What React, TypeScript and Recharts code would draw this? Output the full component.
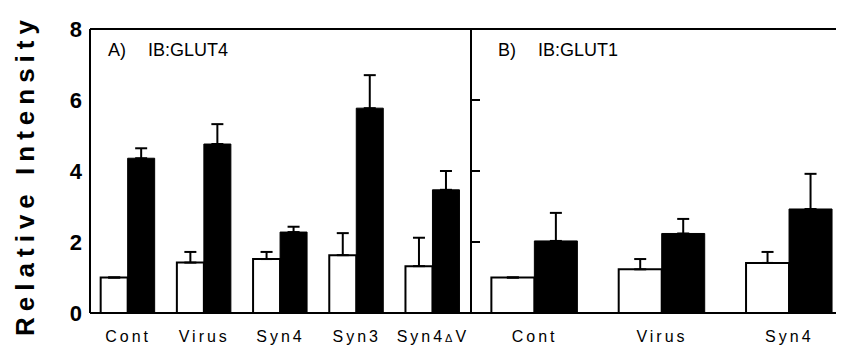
import { BarChart, Bar, XAxis, YAxis, ErrorBar, ReferenceLine, Customized } from "recharts";

const catsA = ["Cont", "Virus", "Syn4", "Syn3", "Syn4ΔV"];
const basalA = [1.0, 1.42, 1.52, 1.63, 1.32];
const basalErrA = [0, 0.3, 0.2, 0.62, 0.8];
const insulinA = [4.36, 4.76, 2.28, 5.77, 3.47];
const insulinErrA = [0.28, 0.56, 0.15, 0.93, 0.53];

const catsB = ["Cont", "Virus", "Syn4"];
const basalB = [1.0, 1.23, 1.41];
const basalErrB = [0, 0.29, 0.31];
const insulinB = [2.03, 2.24, 2.93];
const insulinErrB = [0.79, 0.41, 0.99];

const yTicks = [0, 2, 4, 6, 8];

const FONT = "'Liberation Sans', Arial, sans-serif";

const dataA = catsA.map((name, i) => ({
  name,
  basal: basalA[i],
  basalErr: [0, basalErrA[i]],
  insulin: insulinA[i],
  insulinErr: [0, insulinErrA[i]],
}));

const dataB = catsB.map((name, i) => ({
  name,
  basal: basalB[i],
  basalErr: [0, basalErrB[i]],
  insulin: insulinB[i],
  insulinErr: [0, insulinErrB[i]],
}));

const XTick = (props: any) => {
  const { x, y, payload } = props;
  const v: string = payload.value;
  const delta = v.indexOf("Δ");
  return (
    <text x={x} y={y} dy={21} textAnchor="middle" fontSize={16} letterSpacing={3} fill="#000" fontFamily={FONT}>
      {delta >= 0 ? (
        <>
          {v.slice(0, delta)}
          <tspan fontSize={11}>Δ</tspan>
          {v.slice(delta + 1)}
        </>
      ) : (
        v
      )}
    </text>
  );
};

// divider ticks carry no labels
const NoLabel = () => <g />;

const PanelLabel = ({ x1, x2, a, b }: { x1: number; x2: number; a: string; b: string }) => (
  <g fontFamily={FONT} fontSize={18} fill="#000">
    <text x={x1} y={48}>{a}</text>
    <text x={x2} y={48}>{b}</text>
  </g>
);

function bars() {
  return [
    <Bar key="basal" dataKey="basal" fill="#fff" stroke="#000" strokeWidth={2} isAnimationActive={false}>
      <ErrorBar dataKey="basalErr" direction="y" width={6} stroke="#000" strokeWidth={2} />
    </Bar>,
    <Bar key="insulin" dataKey="insulin" fill="#000" stroke="#000" strokeWidth={1} isAnimationActive={false}>
      <ErrorBar dataKey="insulinErr" direction="y" width={6} stroke="#000" strokeWidth={2} />
    </Bar>,
  ];
}

export default function App() {
  return (
    <div style={{ position: "relative", width: 836, height: 341, overflow: "hidden", background: "#fff" }}>
      <div style={{ position: "absolute", left: 463, top: 0 }}>
        <BarChart
          width={382}
          height={341}
          data={dataB}
          margin={{ top: 21, right: 0, bottom: 0, left: 0 }}
          barGap={0}
          barCategoryGap="16%"
        >
          <XAxis
            dataKey="name"
            height={36}
            tickLine={false}
            axisLine={{ stroke: "#000", strokeWidth: 2 }}
            tick={<XTick />}
            interval={0}
          />
          <YAxis hide width={0} domain={[0, 8]} ticks={yTicks} />
          <ReferenceLine y={8} stroke="#000" strokeWidth={2} />
          {bars()}
          <Customized component={() => <PanelLabel x1={27} x2={67} a="B)" b="IB:GLUT1" />} />
        </BarChart>
      </div>
      <div style={{ position: "absolute", left: 0, top: 0, zIndex: 1 }}>
        <BarChart
          width={475}
          height={341}
          data={dataA}
          margin={{ top: 21, right: 0, bottom: 0, left: 0 }}
          barGap={0}
          barCategoryGap="14%"
        >
          <XAxis
            dataKey="name"
            height={36}
            tickLine={false}
            axisLine={{ stroke: "#000", strokeWidth: 2 }}
            tick={<XTick />}
            interval={0}
          />
          <YAxis
            width={82}
            domain={[0, 8]}
            ticks={yTicks}
            tickLine={false}
            axisLine={{ stroke: "#000", strokeWidth: 2 }}
            tick={{ fontSize: 22, fontWeight: "bold", fill: "#000", fontFamily: FONT }}
          />
          <YAxis
            yAxisId="divider"
            orientation="right"
            type="number"
            width={12}
            domain={[0, 8]}
            allowDataOverflow
            ticks={yTicks}
            tickSize={9}
            tickLine={{ stroke: "#000", strokeWidth: 2 }}
            axisLine={{ stroke: "#000", strokeWidth: 2 }}
            tick={<NoLabel />}
          />
          <ReferenceLine y={8} stroke="#000" strokeWidth={2} />
          {bars()}
          <Customized
            component={() => (
              <g>
                <text
                  transform="translate(17,167) rotate(-90)"
                  textAnchor="middle"
                  dominantBaseline="central"
                  fontSize={26}
                  fontWeight="bold"
                  letterSpacing={6}
                  fontFamily={FONT}
                  fill="#000"
                >
                  Relative Intensity
                </text>
                <PanelLabel x1={100} x2={140} a="A)" b="IB:GLUT4" />
              </g>
            )}
          />
        </BarChart>
      </div>
    </div>
  );
}
